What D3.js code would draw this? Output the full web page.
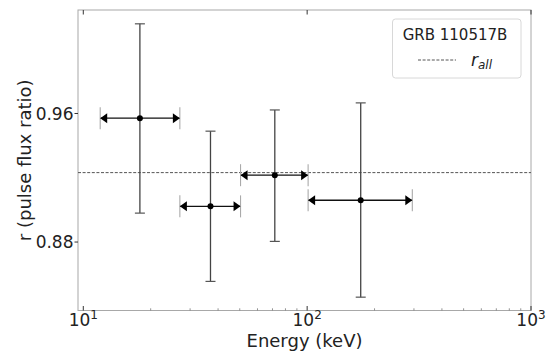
<!DOCTYPE html>
<html>
<head>
<meta charset="utf-8">
<script src="https://cdn.jsdelivr.net/npm/d3@7"></script>
<style>
  html, body { margin: 0; padding: 0; background: #fff; }
  svg { display: block; font-family: "DejaVu Sans", sans-serif; }
</style>
</head>
<body>
<svg id="chart" width="550" height="352"></svg>
<script>
// ---- data ----
const energy  = [17.9, 37.0, 71.7, 173.5];      // keV, bin centre
const eLow    = [11.9, 27.0, 50.4, 101.0];      // keV, bin lower edge
const eHigh   = [27.0, 50.4, 101.0, 295.0];     // keV, bin upper edge
const ratio   = [0.9571, 0.9022, 0.9216, 0.9060];
const rLow    = [0.8980, 0.8555, 0.8804, 0.8457];
const rHigh   = [1.0158, 0.9490, 0.9622, 0.9666];
const rAll    = 0.9232;
const yTicks  = [0.88, 0.96];
const yTickLabels = ["0.88", "0.96"];
const xMajor  = [10, 100, 1000];
const xExp    = ["1", "2", "3"];
const xMinor  = [20,30,40,50,60,70,80,90,200,300,400,500,600,700,800,900];
const legendTitle = "GRB 110517B";

const svg = d3.select("#chart");
const L = 78, R = 531, T = 10, B = 310.5;

const x = d3.scaleLog().domain([9.47, 1000]).range([L, R]);
const y = d3.scaleLinear().domain([0.8374, 1.0244]).range([B, T]);

const pts = energy.map((e, i) => ({e, lo: eLow[i], hi: eHigh[i], r: ratio[i], rl: rLow[i], rh: rHigh[i]}));

// spines
svg.append("rect").attr("x", L).attr("y", T).attr("width", R - L).attr("height", B - T)
  .attr("fill", "none").attr("stroke", "#a8a8a8").attr("stroke-width", 1);

// bottom ticks (inward)
const gx = svg.append("g");
gx.selectAll(".maj").data(xMajor).join("line")
  .attr("x1", d => x(d)).attr("x2", d => x(d)).attr("y1", B).attr("y2", B - 4.5)
  .attr("stroke", "#333").attr("stroke-width", 1);
gx.selectAll(".min").data(xMinor).join("line")
  .attr("x1", d => x(d)).attr("x2", d => x(d)).attr("y1", B).attr("y2", B - 2.2)
  .attr("stroke", "#777").attr("stroke-width", 0.8);
// top major ticks (inward)
gx.selectAll(".top").data(xMajor).join("line")
  .attr("x1", d => x(d)).attr("x2", d => x(d)).attr("y1", T).attr("y2", T + 4.5)
  .attr("stroke", "#333").attr("stroke-width", 1);

// x tick labels 10^n
const xl = gx.selectAll(".xl").data(xMajor).join("text")
  .attr("x", d => x(d)).attr("y", 326.3).attr("text-anchor", "middle")
  .attr("font-size", 17).attr("fill", "#222");
xl.append("tspan").text("10");
xl.append("tspan").text((d, i) => xExp[i]).attr("font-size", 12).attr("dy", -7);

// y ticks (outward) and labels
const gy = svg.append("g");
gy.selectAll("line").data(yTicks).join("line")
  .attr("x1", L - 3.5).attr("x2", L).attr("y1", d => y(d)).attr("y2", d => y(d))
  .attr("stroke", "#333").attr("stroke-width", 1);
gy.selectAll("text").data(yTicks).join("text")
  .attr("x", L - 4.5).attr("y", d => y(d)).attr("dy", "0.36em")
  .attr("text-anchor", "end").attr("font-size", 17).attr("fill", "#222")
  .text((d, i) => yTickLabels[i]);

// axis labels
svg.append("text").attr("x", (L + R) / 2).attr("y", 346.5).attr("text-anchor", "middle")
  .attr("font-size", 18).attr("fill", "#222").text("Energy (keV)");
svg.append("text").attr("transform", `translate(31,${(T + B) / 2}) rotate(-90)`)
  .attr("text-anchor", "middle").attr("font-size", 18).attr("fill", "#222")
  .text("r (pulse flux ratio)");

// r_all dashed line
svg.append("line").attr("x1", L).attr("x2", R).attr("y1", y(rAll)).attr("y2", y(rAll))
  .attr("stroke", "#555").attr("stroke-width", 1).attr("stroke-dasharray", "3,1.6");

// error bars
const g = svg.append("g");
// vertical
g.selectAll(".v").data(pts).join("line")
  .attr("x1", d => x(d.e)).attr("x2", d => x(d.e)).attr("y1", d => y(d.rl)).attr("y2", d => y(d.rh))
  .attr("stroke", "#444").attr("stroke-width", 1.3);
["rl", "rh"].forEach(k => {
  g.selectAll(".c" + k).data(pts).join("line")
    .attr("x1", d => x(d.e) - 5).attr("x2", d => x(d.e) + 5)
    .attr("y1", d => y(d[k])).attr("y2", d => y(d[k]))
    .attr("stroke", "#555").attr("stroke-width", 1.2);
});
// horizontal
g.selectAll(".h").data(pts).join("line")
  .attr("x1", d => x(d.lo)).attr("x2", d => x(d.hi)).attr("y1", d => y(d.r)).attr("y2", d => y(d.r))
  .attr("stroke", "#111").attr("stroke-width", 1.3);
["lo", "hi"].forEach(k => {
  g.selectAll(".hc" + k).data(pts).join("line")
    .attr("x1", d => x(d[k])).attr("x2", d => x(d[k]))
    .attr("y1", d => y(d.r) - 11).attr("y2", d => y(d.r) + 11)
    .attr("stroke", "#aaa").attr("stroke-width", 1.1);
});
// arrowheads
g.selectAll(".al").data(pts).join("path")
  .attr("d", d => { const px = x(d.lo), py = y(d.r); return `M${px},${py}L${px + 7},${py - 5}L${px + 7},${py + 5}Z`; })
  .attr("fill", "#000");
g.selectAll(".ar").data(pts).join("path")
  .attr("d", d => { const px = x(d.hi), py = y(d.r); return `M${px},${py}L${px - 7},${py - 5}L${px - 7},${py + 5}Z`; })
  .attr("fill", "#000");
// markers
g.selectAll("circle").data(pts).join("circle")
  .attr("cx", d => x(d.e)).attr("cy", d => y(d.r)).attr("r", 3).attr("fill", "#000");

// legend
const lg = svg.append("g");
lg.append("rect").attr("x", 392.5).attr("y", 19).attr("width", 128.5).attr("height", 59)
  .attr("rx", 3).attr("fill", "#fff").attr("fill-opacity", 0.8).attr("stroke", "#d8d8d8").attr("stroke-width", 1);
lg.append("text").attr("x", 455).attr("y", 39.5).attr("text-anchor", "middle")
  .attr("font-size", 15).attr("fill", "#222").text(legendTitle);
lg.append("line").attr("x1", 418).attr("x2", 456).attr("y1", 60).attr("y2", 60)
  .attr("stroke", "#555").attr("stroke-width", 1).attr("stroke-dasharray", "3,1.6");
const lt = lg.append("text").attr("x", 471).attr("y", 65.5).attr("font-size", 17)
  .attr("font-style", "italic").attr("fill", "#222");
lt.append("tspan").text("r");
lt.append("tspan").text("all").attr("font-size", 12).attr("dy", 3.5);
</script>
</body>
</html>
